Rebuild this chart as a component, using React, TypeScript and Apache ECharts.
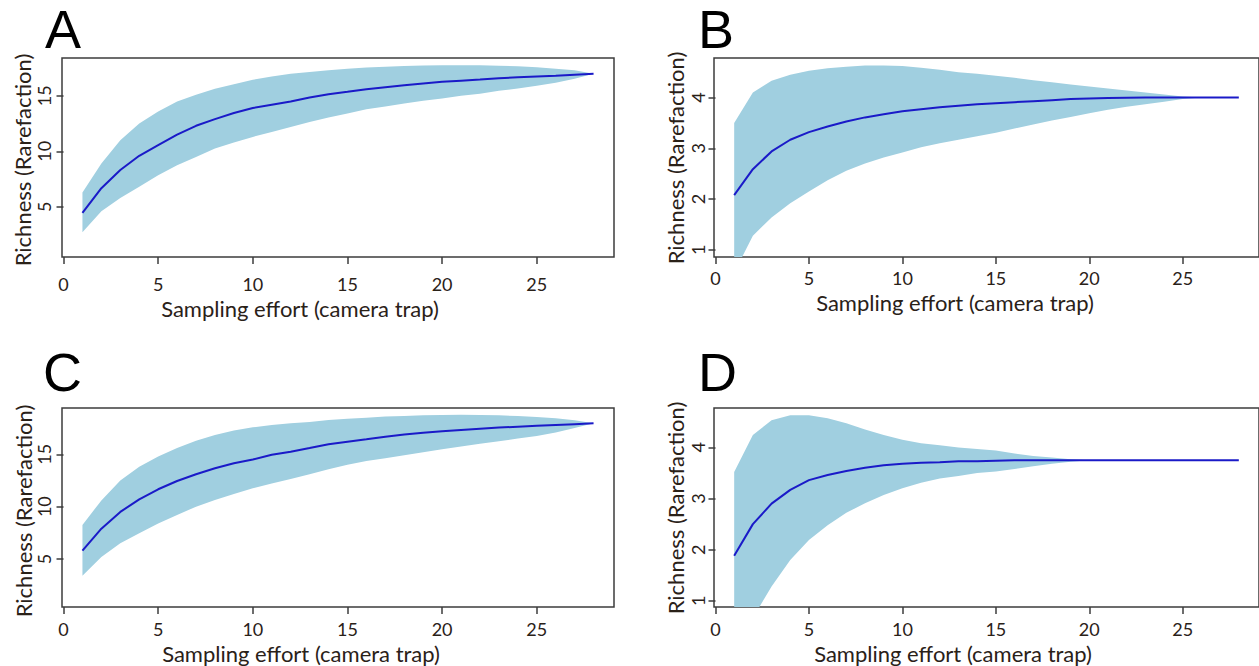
import React, { useEffect, useRef } from "react";
import * as echarts from "echarts";

const effort = [1, 2, 3, 4, 5, 6, 7, 8, 9, 10, 11, 12, 13, 14, 15, 16, 17, 18, 19, 20, 21, 22, 23, 24, 25, 26, 27, 28];
const xTicks = [0, 5, 10, 15, 20, 25];

const aMean = [4.46, 6.68, 8.32, 9.6, 10.55, 11.5, 12.3, 12.9, 13.45, 13.9, 14.2, 14.5, 14.85, 15.15, 15.36, 15.6, 15.78, 15.96, 16.12, 16.26, 16.37, 16.47, 16.58, 16.68, 16.75, 16.82, 16.9, 16.98];
const aUpper = [6.3, 8.9, 11.0, 12.5, 13.6, 14.5, 15.1, 15.65, 16.05, 16.45, 16.75, 17.0, 17.15, 17.3, 17.45, 17.55, 17.63, 17.7, 17.73, 17.75, 17.76, 17.75, 17.72, 17.66, 17.57, 17.45, 17.3, 16.98];
const aLower = [2.7, 4.6, 5.8, 6.8, 7.85, 8.75, 9.5, 10.25, 10.8, 11.3, 11.75, 12.2, 12.65, 13.05, 13.4, 13.8, 14.05, 14.3, 14.55, 14.76, 15.0, 15.2, 15.45, 15.66, 15.9, 16.17, 16.55, 16.98];

const bMean = [2.08, 2.59, 2.94, 3.17, 3.32, 3.43, 3.53, 3.61, 3.67, 3.73, 3.77, 3.81, 3.84, 3.87, 3.89, 3.91, 3.93, 3.95, 3.97, 3.98, 3.99, 3.995, 4.0, 4.0, 4.0, 4.0, 4.0, 4.0];
const bUpper = [3.5, 4.1, 4.33, 4.45, 4.53, 4.58, 4.61, 4.63, 4.63, 4.62, 4.59, 4.55, 4.5, 4.47, 4.43, 4.39, 4.34, 4.3, 4.26, 4.22, 4.18, 4.14, 4.1, 4.06, 4.02, 4.0, 4.0, 4.0];
const bLower = [0.55, 1.28, 1.64, 1.92, 2.15, 2.37, 2.56, 2.7, 2.82, 2.92, 3.02, 3.1, 3.17, 3.24, 3.31, 3.39, 3.47, 3.55, 3.62, 3.69, 3.76, 3.82, 3.87, 3.92, 3.97, 4.0, 4.0, 4.0];

const cMean = [5.8, 7.9, 9.5, 10.7, 11.66, 12.45, 13.1, 13.66, 14.14, 14.5, 14.95, 15.25, 15.6, 15.96, 16.2, 16.43, 16.67, 16.9, 17.05, 17.2, 17.33, 17.45, 17.55, 17.64, 17.72, 17.8, 17.88, 17.96];
const cUpper = [8.25, 10.6, 12.5, 13.8, 14.8, 15.6, 16.3, 16.85, 17.26, 17.58, 17.8, 17.96, 18.09, 18.28, 18.4, 18.5, 18.6, 18.66, 18.72, 18.76, 18.77, 18.76, 18.72, 18.66, 18.56, 18.44, 18.24, 17.96];
const cLower = [3.4, 5.2, 6.5, 7.45, 8.4, 9.2, 10.0, 10.64, 11.2, 11.75, 12.2, 12.64, 13.1, 13.57, 14.0, 14.36, 14.63, 14.9, 15.2, 15.48, 15.75, 16.0, 16.25, 16.5, 16.75, 17.07, 17.5, 17.96];

const dMean = [1.88, 2.5, 2.9, 3.17, 3.36, 3.46, 3.54, 3.6, 3.65, 3.68, 3.7, 3.71, 3.73, 3.73, 3.74, 3.75, 3.75, 3.75, 3.75, 3.75, 3.75, 3.75, 3.75, 3.75, 3.75, 3.75, 3.75, 3.75];
const dUpper = [3.52, 4.24, 4.53, 4.63, 4.63, 4.57, 4.47, 4.35, 4.24, 4.15, 4.08, 4.04, 4.0, 3.97, 3.94, 3.88, 3.83, 3.8, 3.77, 3.75, 3.75, 3.75, 3.75, 3.75, 3.75, 3.75, 3.75, 3.75];
const dLower = [0.3, 0.67, 1.28, 1.8, 2.19, 2.48, 2.72, 2.91, 3.07, 3.2, 3.31, 3.39, 3.44, 3.5, 3.53, 3.58, 3.63, 3.68, 3.72, 3.75, 3.75, 3.75, 3.75, 3.75, 3.75, 3.75, 3.75, 3.75];

const panelLetters = ["A", "B", "C", "D"];
const yTicksRich = [5, 10, 15];
const yTicksSmall = [1, 2, 3, 4];
const xTitle = "Sampling effort (camera trap)";
const yTitle = "Richness (Rarefaction)";

const TEXT = "#2a2118";
const BOX = "#3c3c3c";
const BAND = "#a0cfe0";
const LINE = "#1a1ac8";
const FONT = "Lato";

const panels = [
  { mean: aMean, upper: aUpper, lower: aLower, yMin: 0.48, yMax: 18.41, yTicks: yTicksRich, left: 62, top: 58, xm: 18, ym: 9,
    letter: { x: 45, y: 29 }, xt: { x: 300, y: 308 }, yt: { x: 22, y: 160 } },
  { mean: bMean, upper: bUpper, lower: bLower, yMin: 0.86, yMax: 4.78, yTicks: yTicksSmall, left: 714, top: 58, xm: 12, ym: 7.5,
    letter: { x: 698, y: 29 }, xt: { x: 955, y: 302 }, yt: { x: 675, y: 158 } },
  { mean: cMean, upper: cUpper, lower: cLower, yMin: 0.42, yMax: 19.42, yTicks: yTicksRich, left: 62, top: 408, xm: 13, ym: 9,
    letter: { x: 43, y: 372 }, xt: { x: 301, y: 653 }, yt: { x: 23, y: 511 } },
  { mean: dMean, upper: dUpper, lower: dLower, yMin: 0.88, yMax: 4.77, yTicks: yTicksSmall, left: 714, top: 408, xm: 13, ym: 7.5,
    letter: { x: 698, y: 372 }, xt: { x: 953, y: 653 }, yt: { x: 675, y: 508 } },
];

export default function App() {
  const ref = useRef<HTMLDivElement>(null);
  useEffect(() => {
    if (!ref.current) return;
    const chart = echarts.init(ref.current, undefined, { renderer: "svg" });
    const series: any[] = [];
    panels.forEach((p, i) => {
      series.push({
        type: "custom", xAxisIndex: i, yAxisIndex: i, clip: true, silent: true, z: 1,
        data: effort.map((x, k) => [x, p.lower[k], p.upper[k]]),
        encode: { x: 0, y: [1, 2] },
        renderItem: (params: any, api: any) => {
          if (params.dataIndex !== 0) return null;
          const pts: number[][] = [];
          for (let k = 0; k < effort.length; k++) pts.push(api.coord([effort[k], p.upper[k]]));
          for (let k = effort.length - 1; k >= 0; k--) pts.push(api.coord([effort[k], p.lower[k]]));
          const cs = params.coordSys;
          return {
            type: "polygon",
            shape: { points: pts },
            style: { fill: BAND },
            clipPath: { type: "rect", shape: { x: cs.x, y: cs.y, width: cs.width, height: cs.height } },
          };
        },
      });
      series.push({
        type: "line", xAxisIndex: i, yAxisIndex: i,
        data: effort.map((x, k) => [x, p.mean[k]]), showSymbol: false, symbol: "none",
        lineStyle: { color: LINE, width: 2 }, silent: true, z: 2,
      });
    });
    const graphic: any[] = [];
    panels.forEach((p, i) => {
      graphic.push({ type: "text", x: p.letter.x, y: p.letter.y, style: { text: panelLetters[i], font: "54px 'Liberation Sans'", fill: "#000", textAlign: "left", textVerticalAlign: "middle" } });
      graphic.push({ type: "text", x: p.xt.x, y: p.xt.y, style: { text: xTitle, font: `22px ${FONT}`, fill: TEXT, textAlign: "center", textVerticalAlign: "middle" } });
      graphic.push({ type: "text", x: p.yt.x, y: p.yt.y, rotation: Math.PI / 2, style: { text: yTitle, font: `22px ${FONT}`, fill: TEXT, textAlign: "center", textVerticalAlign: "middle" } });
    });
    chart.setOption({
      animation: false,
      backgroundColor: "#ffffff",
      grid: panels.map((p) => ({ left: p.left, top: p.top, width: 552, height: 199, show: true, borderColor: BOX, borderWidth: 1.5, backgroundColor: "transparent" })),
      xAxis: panels.map((p, i) => ({
        type: "value", gridIndex: i, min: -0.08, max: 29.08,
        axisLine: { show: false }, splitLine: { show: false },
        axisTick: { show: true, customValues: xTicks, length: 7, lineStyle: { color: BOX, width: 1.5 } },
        axisLabel: { customValues: xTicks, margin: p.xm, fontSize: 18, fontFamily: FONT, color: TEXT },
      })),
      yAxis: panels.map((p, i) => ({
        type: "value", gridIndex: i, min: p.yMin, max: p.yMax,
        axisLine: { show: false }, splitLine: { show: false },
        axisTick: { show: true, customValues: p.yTicks, length: 7, lineStyle: { color: BOX, width: 1.5 } },
        axisLabel: { customValues: p.yTicks, rotate: 90, margin: p.ym, fontSize: 18, fontFamily: FONT, color: TEXT },
      })),
      series,
      graphic,
    });
    return () => chart.dispose();
  }, []);
  return <div ref={ref} style={{ position: "fixed", left: 0, top: 0, width: 1259, height: 666, background: "#fff" }} />;
}
